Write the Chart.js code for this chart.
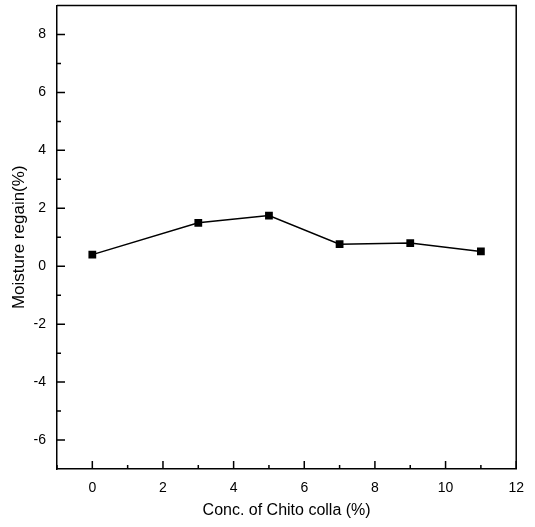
<!DOCTYPE html>
<html>
<head>
<meta charset="utf-8">
<script src="https://cdn.jsdelivr.net/npm/chart.js@4"></script>
<style>
  html, body { margin: 0; padding: 0; background: #fff; }
  #wrap { width: 535px; height: 527px; }
</style>
</head>
<body>
<div id="wrap"><canvas id="moisture"></canvas></div>
<script>
// data
const concentrations = [0, 3, 5, 7, 9, 11];
const moistureRegain = [0.40, 1.50, 1.75, 0.76, 0.80, 0.51];
const xTicks = [0, 2, 4, 6, 8, 10, 12];
const yTicks = [-6, -4, -2, 0, 2, 4, 6, 8];

const FONT = 'Arial, "Liberation Sans", sans-serif';

// ticks point into the plot, minor ticks halfway between majors; frame closed on top/right
const innerTicks = {
    id: 'innerTicks',
    afterDraw(chart) {
        const ctx = chart.ctx;
        const { left, right, top, bottom } = chart.chartArea;
        const xs = chart.scales.x, ys = chart.scales.y;
        ctx.save();
        ctx.strokeStyle = '#000';
        ctx.lineWidth = 1.5;
        ctx.beginPath();
        ctx.moveTo(left, top);
        ctx.lineTo(right, top);
        ctx.lineTo(right, bottom);
        ctx.stroke();

        ctx.beginPath();
        for (let i = 0; i < xTicks.length; i++) {
            const px = xs.getPixelForValue(xTicks[i]);
            ctx.moveTo(px, bottom);
            ctx.lineTo(px, bottom - 8);
            const mid = xTicks[i] - 1;
            if (mid >= xs.min) {
                const mx = xs.getPixelForValue(mid);
                ctx.moveTo(mx, bottom);
                ctx.lineTo(mx, bottom - 4);
            }
        }
        for (let i = 0; i < yTicks.length; i++) {
            const py = ys.getPixelForValue(yTicks[i]);
            ctx.moveTo(left, py);
            ctx.lineTo(left + 8, py);
        }
        for (let v = -5; v <= 7; v += 2) {
            const my = ys.getPixelForValue(v);
            ctx.moveTo(left, my);
            ctx.lineTo(left + 4, my);
        }
        ctx.stroke();
        ctx.restore();
    }
};

new Chart(document.getElementById('moisture'), {
    type: 'scatter',
    data: {
        datasets: [{
            label: 'Moisture regain',
            data: concentrations.map((c, i) => ({ x: c, y: moistureRegain[i] })),
            showLine: true,
            borderColor: '#000',
            borderWidth: 1.5,
            backgroundColor: '#000',
            pointStyle: 'rect',
            pointRadius: 5.5,
            pointBorderWidth: 0
        }]
    },
    options: {
        responsive: true,
        maintainAspectRatio: false,
        animation: false,
        layout: { padding: { top: 4, right: 18, left: 0, bottom: 0 } },
        scales: {
            x: {
                type: 'linear',
                min: -1,
                max: 12,
                afterBuildTicks: s => { s.ticks = xTicks.map(v => ({ value: v })); },
                afterFit: s => { s.height = 58; },
                grid: { drawOnChartArea: false, drawTicks: false },
                border: { display: true, color: '#000', width: 1.5 },
                ticks: { color: '#000', padding: 11, font: { family: FONT, size: 14 } },
                title: {
                    display: true,
                    text: 'Conc. of Chito colla (%)',
                    color: '#000',
                    font: { family: FONT, size: 16 },
                    padding: { top: 4, bottom: 7 }
                }
            },
            y: {
                min: -7,
                max: 9,
                afterBuildTicks: s => { s.ticks = yTicks.map(v => ({ value: v })); },
                afterFit: s => { s.width = 57; s.paddingTop = 0; s.paddingBottom = 0; },
                grid: { drawOnChartArea: false, drawTicks: false },
                border: { display: true, color: '#000', width: 1.5 },
                ticks: { color: '#000', padding: 11, font: { family: FONT, size: 14 } },
                title: {
                    display: true,
                    text: 'Moisture regain(%)',
                    color: '#000',
                    font: { family: FONT, size: 17 },
                    padding: { top: 9, bottom: 4 }
                }
            }
        },
        plugins: {
            legend: { display: false },
            tooltip: { enabled: false }
        }
    },
    plugins: [innerTicks]
});
</script>
</body>
</html>
